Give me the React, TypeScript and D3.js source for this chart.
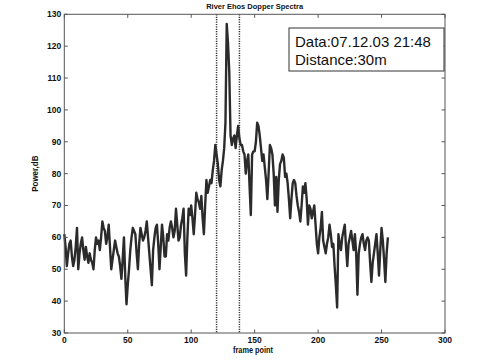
import React from "react";
import * as d3 from "d3";

// Power (dB) per frame point 0..255
const power: number[] = [
  61, 57, 51, 55, 58, 59, 54, 51, 53, 57,
  63, 50, 55, 58, 60, 56, 53, 57, 54, 52,
  55, 53, 52, 50, 56, 60, 58, 59, 56, 60,
  65, 63, 62, 58, 60, 64, 57, 50, 53, 56,
  59, 57, 55, 54, 51, 47, 53, 60, 48, 39,
  45, 50, 56, 60, 63, 62, 61, 55, 50, 58,
  63, 61, 59, 60, 62, 65, 60, 55, 50, 45,
  56, 60, 63, 64, 58, 50, 57, 64, 60, 54,
  54, 61, 59, 63, 65, 63, 60, 62, 69, 64,
  59, 60, 64, 66, 69, 55, 48, 60, 69, 67,
  70, 66, 61, 67, 74, 72, 71, 69, 73, 66,
  61, 70, 78, 74, 76, 78, 77, 81, 84, 89,
  86, 83, 78, 76, 81, 84, 88, 96, 127, 121,
  112, 92, 89, 91, 92, 88, 92, 95, 91, 89,
  89, 87, 86, 80, 84, 86, 76, 67, 86, 87,
  87, 90, 96, 95, 92, 88, 84, 86, 82, 78,
  72, 80, 89, 88, 86, 80, 70, 79, 68, 78,
  83, 84, 86, 85, 79, 80, 77, 72, 66, 72,
  77, 78, 77, 73, 70, 68, 65, 70, 76, 74,
  77, 72, 64, 70, 69, 66, 68, 70, 64, 58,
  55, 60, 63, 68, 59, 57, 55, 58, 60, 64,
  61, 57, 58, 51, 45, 38, 61, 58, 56, 60,
  62, 64, 57, 51, 58, 60, 62, 59, 56, 61,
  55, 42, 55, 58, 60, 61, 58, 56, 59, 60,
  59, 52, 46, 52, 55, 58, 61, 55, 48, 56,
  63, 59, 53, 46, 55, 60,
];

// the two dotted markers around the peak
const markers: number[] = [120, 138];

const xTicks: number[] = [0, 50, 100, 150, 200, 250, 300];
const yTicks: number[] = [30, 40, 50, 60, 70, 80, 90, 100, 110, 120, 130];

const legendLines: string[] = ["Data:07.12.03 21:48", "Distance:30m"];

const W = 492, H = 361;
const left = 64.3, right = 445, top = 14.3, bottom = 333;

export default function App() {
  const x = d3.scaleLinear().domain([0, 300]).range([left, right]);
  const y = d3.scaleLinear().domain([30, 130]).range([bottom, top]);

  const line = d3
    .line<number>()
    .x((_, i) => x(i))
    .y((d) => y(d));

  const tickFont = {
    fontFamily: "Liberation Sans, Arial, sans-serif",
    fontWeight: 700,
    fontSize: 8.5,
    fill: "#111",
  } as const;

  return (
    <svg
      width={W}
      height={H}
      style={{ position: "absolute", left: 0, top: 0, background: "#fff" }}
    >
      <rect x={0} y={0} width={W} height={H} fill="#fff" />

      {/* title */}
      <text
        x={(left + right) / 2}
        y={8.5}
        textAnchor="middle"
        textLength={97}
        lengthAdjust="spacingAndGlyphs"
        {...tickFont}
        fontSize={8}
      >
        River Ehos Dopper Spectra
      </text>

      {/* spectrum */}
      <path
        d={line(power) ?? ""}
        fill="none"
        stroke="#2b2b2b"
        strokeWidth={2.4}
        strokeLinejoin="round"
      />

      {/* markers */}
      {markers.map((m) => (
        <line
          key={m}
          x1={x(m)}
          x2={x(m)}
          y1={top}
          y2={bottom}
          stroke="#333"
          strokeWidth={1.5}
          strokeDasharray="1.2 1.2"
        />
      ))}

      {/* frame */}
      <rect
        x={left}
        y={top}
        width={right - left}
        height={bottom - top}
        fill="none"
        stroke="#555"
        strokeWidth={1}
      />

      {/* x ticks */}
      {xTicks.map((t) => (
        <g key={"x" + t}>
          <line x1={x(t)} x2={x(t)} y1={bottom} y2={bottom - 3.5} stroke="#555" />
          <line x1={x(t)} x2={x(t)} y1={top} y2={top + 3.5} stroke="#555" />
          <text x={x(t)} y={343} textAnchor="middle" {...tickFont}>
            {t}
          </text>
        </g>
      ))}

      {/* y ticks */}
      {yTicks.map((t) => (
        <g key={"y" + t}>
          <line x1={left} x2={left + 3.5} y1={y(t)} y2={y(t)} stroke="#555" />
          <line x1={right} x2={right - 3.5} y1={y(t)} y2={y(t)} stroke="#555" />
          <text
            x={left - 3}
            y={y(t)}
            dy="0.35em"
            textAnchor="end"
            {...tickFont}
          >
            {t}
          </text>
        </g>
      ))}

      {/* axis labels */}
      <text
        x={253}
        y={353}
        textAnchor="middle"
        textLength={40}
        lengthAdjust="spacingAndGlyphs"
        {...tickFont}
      >
        frame point
      </text>
      <text
        transform={`translate(38,${(top + bottom) / 2}) rotate(-90)`}
        textAnchor="middle"
        textLength={36}
        lengthAdjust="spacingAndGlyphs"
        {...tickFont}
      >
        Power,dB
      </text>

      {/* legend box */}
      <rect x={289} y={28} width={155} height={43} fill="#fff" stroke="#333" strokeWidth={1} />
      {legendLines.map((s, i) => (
        <text
          key={s}
          x={295}
          y={46.7 + i * 18.5}
          fontFamily="Liberation Sans, Arial, sans-serif"
          fontSize={15}
          fill="#111"
        >
          {s}
        </text>
      ))}
    </svg>
  );
}
